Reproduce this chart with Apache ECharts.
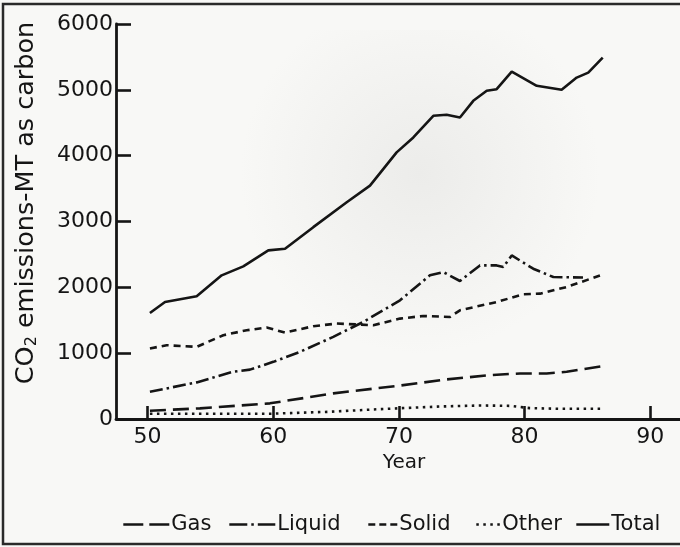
<!DOCTYPE html>
<html>
<head>
<meta charset="utf-8">
<script src="https://cdn.jsdelivr.net/npm/echarts@6/dist/echarts.min.js"></script>
<style>
html,body{margin:0;padding:0;background:#f8f8f6;}
#chart{width:680px;height:547px;}
</style>
</head>
<body>
<div id="chart"></div>
<script>
// ---- data ----
var seriesNames = ['Gas', 'Liquid', 'Solid', 'Other', 'Total'];
var xTicks = [50, 60, 70, 80, 90];
var yTicks = [0, 1000, 2000, 3000, 4000, 5000, 6000];

var gasYears = [50.19, 54.17, 59.74, 64.78, 69.95, 73.80, 77.25, 79.64, 81.76, 83.35, 86.22];
var gasValues = [125, 162, 238, 389, 505, 601, 667, 692, 692, 717, 803];

var liquidYears = [50.19, 53.91, 56.82, 58.15, 60.01, 62.13, 64.78, 67.17, 70.09, 72.47, 73.53, 74.86, 76.45, 77.78, 78.31, 78.98, 80.69, 82.29, 84.65];
var liquidValues = [414, 556, 718, 750, 868, 1020, 1248, 1475, 1803, 2182, 2232, 2096, 2333, 2333, 2308, 2485, 2283, 2156, 2150];

var solidYears = [50.19, 51.52, 53.91, 56.03, 57.89, 59.48, 60.94, 63.19, 65.05, 67.97, 70.09, 71.94, 74.07, 74.86, 77.78, 79.90, 81.23, 83.35, 86.0];
var solidValues = [1071, 1121, 1096, 1273, 1348, 1389, 1313, 1409, 1450, 1425, 1525, 1565, 1550, 1651, 1777, 1894, 1904, 2005, 2180];

var otherYears = [50.19, 59.74, 64.52, 68.50, 73.28, 76.45, 78.84, 80.43, 82.82, 86.24];
var otherValues = [80, 80, 110, 150, 190, 205, 200, 165, 155, 155];

var totalYears = [50.19, 51.39, 53.91, 55.90, 57.62, 59.61, 60.94, 63.19, 65.85, 67.70, 69.82, 71.15, 72.74, 73.80, 74.86, 75.92, 76.99, 77.78, 78.98, 80.97, 82.95, 84.15, 85.07, 86.22];
var totalValues = [1611, 1777, 1864, 2182, 2318, 2561, 2586, 2914, 3292, 3545, 4050, 4277, 4606, 4621, 4580, 4833, 4985, 5010, 5277, 5061, 5000, 5186, 5262, 5489];

function pairs(xs, ys) {
  return xs.map(function (x, i) { return [x, ys[i]]; });
}

var FONT = 'DejaVu Sans';
var INK = '#151515';

var chart = echarts.init(document.getElementById('chart'), null, {renderer: 'canvas'});

function lineSeries(name, xs, ys, dash) {
  return {
    name: name,
    type: 'line',
    data: pairs(xs, ys),
    symbol: 'none',
    smooth: false,
    silent: true,
    lineStyle: {color: INK, width: 2.6, type: dash, cap: 'butt'},
    itemStyle: {color: INK}
  };
}

// one legend box per entry so each sits where the reference puts it
var legendLeft = [117, 223, 362, 470, 570];
var legendIconWidth = [46, 46, 29, 24, 33];
var legendIconDash = [[20, 6], [18, 4, 2.5, 4], [7, 4], [2.5, 4.5], 'solid'];
var legends = seriesNames.map(function (n, i) {
  return {
    data: [n],
    left: legendLeft[i],
    bottom: 7,
    itemWidth: legendIconWidth[i],
    itemHeight: 14,
    selectedMode: false,
    itemStyle: {opacity: 0},
    lineStyle: {type: legendIconDash[i], width: 2.6, color: INK},
    textStyle: {fontFamily: FONT, fontSize: 21, color: INK, padding: [0, 0, 0, -3]}
  };
});

chart.setOption({
  backgroundColor: '#f8f8f6',
  animation: false,
  grid: {left: 116, right: 0, top: 24, bottom: 128, containLabel: false},
  xAxis: {
    type: 'value',
    min: 47.49,
    max: 92.37,
    name: 'Year',
    nameLocation: 'middle',
    nameGap: 32,
    nameTextStyle: {fontFamily: FONT, fontSize: 20, color: INK, padding: [0, 0, 0, 12]},
    axisLine: {show: true, lineStyle: {color: INK, width: 2.8}},
    axisTick: {show: true, inside: true, length: 13, lineStyle: {color: INK, width: 2.6}, customValues: xTicks},
    axisLabel: {fontFamily: FONT, fontSize: 22, color: INK, margin: 7, customValues: xTicks},
    splitLine: {show: false}
  },
  yAxis: {
    type: 'value',
    min: 0,
    max: 6000,
    interval: 1000,
    axisLine: {show: true, lineStyle: {color: INK, width: 2.8}},
    axisTick: {show: true, inside: true, length: 15, lineStyle: {color: INK, width: 2.6}},
    axisLabel: {fontFamily: FONT, fontSize: 22, color: INK, margin: 3,
      formatter: function (v) { return String(v); }},
    splitLine: {show: false}
  },
  legend: legends,
  graphic: [
    {
      type: 'rect', z: -10, silent: true,
      shape: {x: 180, y: 30, width: 480, height: 360},
      style: {
        fill: {
          type: 'radial', x: 0.5, y: 0.4, r: 0.5,
          colorStops: [{offset: 0, color: 'rgba(205,205,203,0.28)'}, {offset: 1, color: 'rgba(205,205,203,0)'}]
        }
      }
    },
    {
      type: 'rect', silent: true,
      shape: {x: 3, y: 4, width: 720, height: 540},
      style: {fill: 'none', stroke: '#2a2a2a', lineWidth: 2.5}
    },
    {
      type: 'text', silent: true,
      x: 26, y: 203, rotation: Math.PI / 2,
      style: {
        text: '{n|CO}{s|2}{n| emissions-MT as carbon}',
        align: 'center', verticalAlign: 'middle',
        rich: {
          n: {fontFamily: FONT, fontSize: 25.5, fill: INK, lineHeight: 30},
          s: {fontFamily: FONT, fontSize: 16, fill: INK, lineHeight: 30, padding: [11, 0, 0, 0]}
        }
      }
    }
  ],
  series: [
    lineSeries('Gas', gasYears, gasValues, [16, 7]),
    lineSeries('Liquid', liquidYears, liquidValues, [13, 4, 2.5, 4]),
    lineSeries('Solid', solidYears, solidValues, [7, 5]),
    lineSeries('Other', otherYears, otherValues, [2.5, 4.5]),
    lineSeries('Total', totalYears, totalValues, 'solid')
  ]
});
</script>
</body>
</html>
